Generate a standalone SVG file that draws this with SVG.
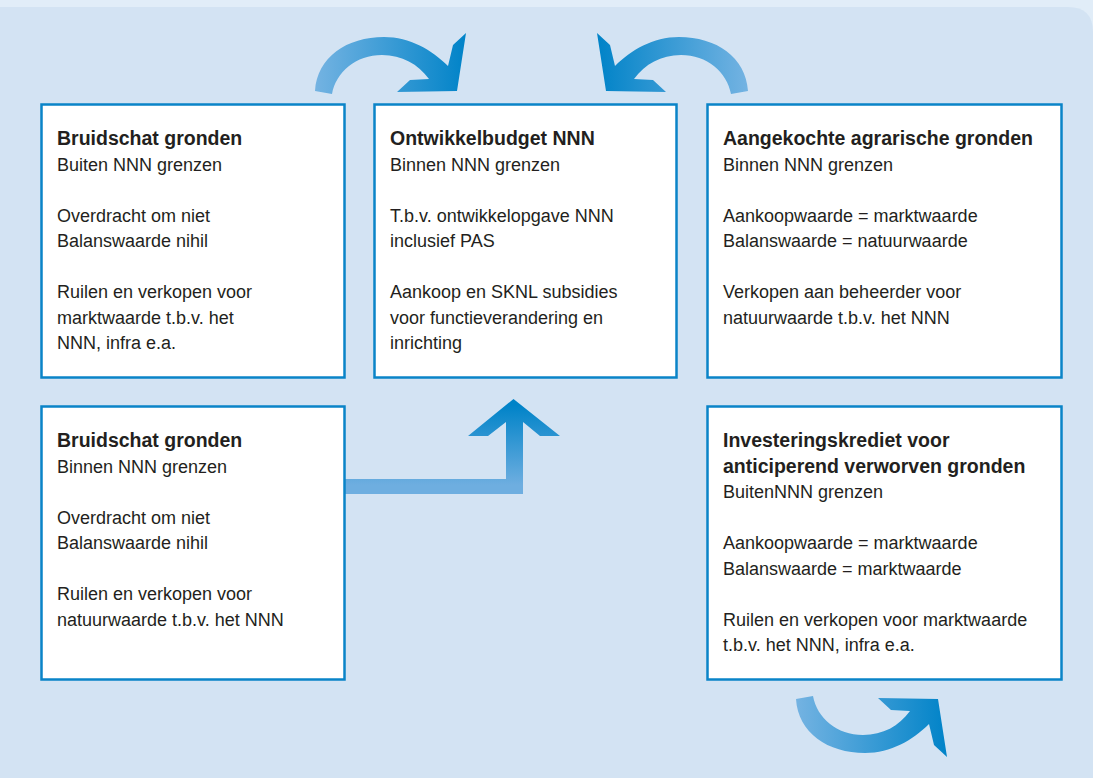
<svg xmlns="http://www.w3.org/2000/svg" width="1093" height="778" viewBox="0 0 1093 778">
<defs>
<style>
.box{fill:#ffffff;stroke:#0a84c8;stroke-width:2.5}
.t{font-family:"Liberation Sans",Arial,sans-serif;font-size:18px;fill:#231f20}
.b{font-weight:bold;font-size:19.5px}
</style>
<linearGradient id="gArc" x1="0" y1="0" x2="1" y2="0">
<stop offset="0" stop-color="#74b3e2"/>
<stop offset="1" stop-color="#0083c8"/>
</linearGradient>
<linearGradient id="gUp" gradientUnits="userSpaceOnUse" x1="0" y1="405" x2="0" y2="485">
<stop offset="0" stop-color="#0083c8"/>
<stop offset="1" stop-color="#6eaee0"/>
</linearGradient>
<path id="arc" d="M315,91 C317,57 347,37 384,37 C410,37 432,50 448,66 L453,45 L466,33 L457,91 L397,92 L410,80 L429,79 C418,64 402,55 382,55 C356,55 336,72 332,94 Z"/>
</defs>
<rect x="0" y="0" width="1093" height="778" fill="#e1edf8"/>
<path d="M0,7 L1068,7 Q1093,7 1093,32 L1093,778 L0,778 Z" fill="#d3e3f3"/>
<g id="connectors">
<use href="#arc" fill="url(#gArc)"/>
<use href="#arc" fill="url(#gArc)" transform="translate(1063,0) scale(-1,1)"/>
<use href="#arc" fill="url(#gArc)" transform="translate(481,790) scale(1,-1)"/>
<path d="M345,479 L506,479 L506,422 L488,436 L468,436 L513.5,399 L560,436 L540,436 L523,422 L523,494 L345,494 Z" fill="url(#gUp)"/>
</g>
<g id="node1">
<rect class="box" x="41.5" y="104.5" width="303" height="273"/>
<text class="t"><tspan class="b" x="57" y="145">Bruidschat gronden</tspan><tspan x="57" y="170.5">Buiten NNN grenzen</tspan><tspan x="57" y="221.5">Overdracht om niet</tspan><tspan x="57" y="247">Balanswaarde nihil</tspan><tspan x="57" y="298">Ruilen en verkopen voor</tspan><tspan x="57" y="323.5">marktwaarde t.b.v. het</tspan><tspan x="57" y="349">NNN, infra e.a.</tspan></text>
</g>
<g id="node2">
<rect class="box" x="374.5" y="104.5" width="302" height="273"/>
<text class="t"><tspan class="b" x="390" y="145">Ontwikkelbudget NNN</tspan><tspan x="390" y="170.5">Binnen NNN grenzen</tspan><tspan x="390" y="221.5">T.b.v. ontwikkelopgave NNN</tspan><tspan x="390" y="247">inclusief PAS</tspan><tspan x="390" y="298">Aankoop en SKNL subsidies</tspan><tspan x="390" y="323.5">voor functieverandering en</tspan><tspan x="390" y="349">inrichting</tspan></text>
</g>
<g id="node3">
<rect class="box" x="707.5" y="104.5" width="354" height="273"/>
<text class="t"><tspan class="b" x="723" y="145">Aangekochte agrarische gronden</tspan><tspan x="723" y="170.5">Binnen NNN grenzen</tspan><tspan x="723" y="221.5">Aankoopwaarde = marktwaarde</tspan><tspan x="723" y="247">Balanswaarde = natuurwaarde</tspan><tspan x="723" y="298">Verkopen aan beheerder voor</tspan><tspan x="723" y="323.5">natuurwaarde t.b.v. het NNN</tspan></text>
</g>
<g id="node4">
<rect class="box" x="41.5" y="406.5" width="303" height="273"/>
<text class="t"><tspan class="b" x="57" y="447">Bruidschat gronden</tspan><tspan x="57" y="472.5">Binnen NNN grenzen</tspan><tspan x="57" y="523.5">Overdracht om niet</tspan><tspan x="57" y="549">Balanswaarde nihil</tspan><tspan x="57" y="600">Ruilen en verkopen voor</tspan><tspan x="57" y="625.5">natuurwaarde t.b.v. het NNN</tspan></text>
</g>
<g id="node5">
<rect class="box" x="707.5" y="406.5" width="354" height="273"/>
<text class="t"><tspan class="b" x="723" y="447">Investeringskrediet voor</tspan><tspan class="b" x="723" y="472.5">anticiperend verworven gronden</tspan><tspan x="723" y="498">BuitenNNN grenzen</tspan><tspan x="723" y="549">Aankoopwaarde = marktwaarde</tspan><tspan x="723" y="574.5">Balanswaarde = marktwaarde</tspan><tspan x="723" y="625.5">Ruilen en verkopen voor marktwaarde</tspan><tspan x="723" y="651">t.b.v. het NNN, infra e.a.</tspan></text>
</g>
</svg>
